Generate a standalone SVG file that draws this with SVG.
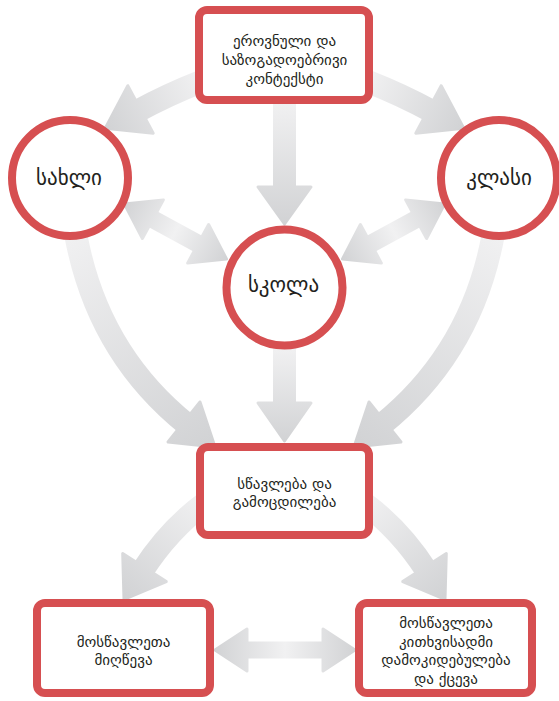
<svg xmlns="http://www.w3.org/2000/svg" width="559" height="701" viewBox="0 0 559 701">
<style>
.node{fill:#ffffff;stroke:#d64f51;stroke-width:8}
.t{font-family:"DejaVu Sans",sans-serif;fill:#231f20;text-anchor:middle}
.bt{font-size:15px}
.ct{font-size:21px}
.sh{fill:none;stroke-linecap:butt}
.hd{stroke-linejoin:round;stroke-width:3}
</style>
<defs>
<linearGradient id="g1" gradientUnits="userSpaceOnUse" x1="200" y1="82" x2="105" y2="128"><stop offset="0" stop-color="#f0f0f1"/><stop offset="1" stop-color="#d1d2d4"/></linearGradient>
<linearGradient id="g2" gradientUnits="userSpaceOnUse" x1="369" y1="82" x2="464" y2="128"><stop offset="0" stop-color="#f0f0f1"/><stop offset="1" stop-color="#d1d2d4"/></linearGradient>
<linearGradient id="g3" gradientUnits="userSpaceOnUse" x1="0" y1="104" x2="0" y2="226"><stop offset="0" stop-color="#f0f0f1"/><stop offset="1" stop-color="#d1d2d4"/></linearGradient>
<linearGradient id="g8" gradientUnits="userSpaceOnUse" x1="0" y1="350" x2="0" y2="443"><stop offset="0" stop-color="#f0f0f1"/><stop offset="1" stop-color="#d1d2d4"/></linearGradient>
<linearGradient id="g4" gradientUnits="userSpaceOnUse" x1="123" y1="203" x2="228" y2="260"><stop offset="0" stop-color="#d1d2d4"/><stop offset="0.5" stop-color="#f1f1f2"/><stop offset="1" stop-color="#d1d2d4"/></linearGradient>
<linearGradient id="g5" gradientUnits="userSpaceOnUse" x1="446" y1="203" x2="341" y2="260"><stop offset="0" stop-color="#d1d2d4"/><stop offset="0.5" stop-color="#f1f1f2"/><stop offset="1" stop-color="#d1d2d4"/></linearGradient>
<linearGradient id="g6" gradientUnits="userSpaceOnUse" x1="76" y1="236" x2="215" y2="447"><stop offset="0" stop-color="#f0f0f1"/><stop offset="1" stop-color="#d1d2d4"/></linearGradient>
<linearGradient id="g7" gradientUnits="userSpaceOnUse" x1="493" y1="236" x2="354" y2="447"><stop offset="0" stop-color="#f0f0f1"/><stop offset="1" stop-color="#d1d2d4"/></linearGradient>
<linearGradient id="g9" gradientUnits="userSpaceOnUse" x1="205" y1="503" x2="124" y2="599"><stop offset="0" stop-color="#f0f0f1"/><stop offset="1" stop-color="#d1d2d4"/></linearGradient>
<linearGradient id="g10" gradientUnits="userSpaceOnUse" x1="364" y1="503" x2="445" y2="599"><stop offset="0" stop-color="#f0f0f1"/><stop offset="1" stop-color="#d1d2d4"/></linearGradient>
<linearGradient id="g11" gradientUnits="userSpaceOnUse" x1="213" y1="0" x2="357" y2="0"><stop offset="0" stop-color="#d1d2d4"/><stop offset="0.5" stop-color="#f1f1f2"/><stop offset="1" stop-color="#d1d2d4"/></linearGradient>
</defs>

<g id="connectors">
  <g id="a-context-home">
    <path class="sh" d="M200,82 Q167,95 137,111.4" stroke="url(#g1)" stroke-width="23"/>
    <polygon class="hd" points="127.8,85.7 153.2,133.3 105.3,128.3" fill="url(#g1)" stroke="url(#g1)"/>
  </g>
  <g id="a-context-class">
    <path class="sh" d="M369,82 Q402,95 432,111.4" stroke="url(#g2)" stroke-width="23"/>
    <polygon class="hd" points="441.2,85.7 415.8,133.3 463.7,128.3" fill="url(#g2)" stroke="url(#g2)"/>
  </g>
  <g id="a-context-school">
    <path class="sh" d="M284.5,100 V188" stroke="url(#g3)" stroke-width="23"/>
    <polygon class="hd" points="258,187 311,187 284.5,224" fill="url(#g3)" stroke="url(#g3)"/>
  </g>
  <g id="a-home-school">
    <path class="sh" d="M150,217.6 L201,245.4" stroke="url(#g4)" stroke-width="18"/>
    <polygon class="hd" points="124.5,204 142.4,238.5 163.4,199.9" fill="url(#g4)" stroke="url(#g4)"/>
    <polygon class="hd" points="226.5,259 187.6,263.1 208.6,224.5" fill="url(#g4)" stroke="url(#g4)"/>
  </g>
  <g id="a-class-school">
    <path class="sh" d="M419,217.6 L368,245.4" stroke="url(#g5)" stroke-width="18"/>
    <polygon class="hd" points="444.5,204 426.6,238.5 405.6,199.9" fill="url(#g5)" stroke="url(#g5)"/>
    <polygon class="hd" points="342.5,259 381.4,263.1 360.4,224.5" fill="url(#g5)" stroke="url(#g5)"/>
  </g>
  <g id="a-home-teaching">
    <path class="sh" d="M76,236 Q98,353 187,424.5" stroke="url(#g6)" stroke-width="23"/>
    <polygon class="hd" points="200,402 168,442 215,447" fill="url(#g6)" stroke="url(#g6)"/>
  </g>
  <g id="a-class-teaching">
    <path class="sh" d="M493,236 Q471,353 382,424.5" stroke="url(#g7)" stroke-width="23"/>
    <polygon class="hd" points="369,402 401,442 354,447" fill="url(#g7)" stroke="url(#g7)"/>
  </g>
  <g id="a-school-teaching">
    <path class="sh" d="M284.5,348 V404" stroke="url(#g8)" stroke-width="23"/>
    <polygon class="hd" points="258,403 311,403 284.5,441" fill="url(#g8)" stroke="url(#g8)"/>
  </g>
  <g id="a-teaching-achievement">
    <path class="sh" d="M205,503 Q168.8,529.7 142.3,570.9" stroke="url(#g9)" stroke-width="23"/>
    <polygon class="hd" points="166.3,581.5 122.7,553.5 124,599.4" fill="url(#g9)" stroke="url(#g9)"/>
  </g>
  <g id="a-teaching-attitude">
    <path class="sh" d="M364,503 Q400.2,529.7 426.7,570.9" stroke="url(#g10)" stroke-width="23"/>
    <polygon class="hd" points="402.7,581.5 446.3,553.5 445,599.4" fill="url(#g10)" stroke="url(#g10)"/>
  </g>
  <g id="a-achievement-attitude">
    <path class="sh" d="M245,650 H325" stroke="url(#g11)" stroke-width="17"/>
    <polygon class="hd" points="215,650 247,629 247,671" fill="url(#g11)" stroke="url(#g11)"/>
    <polygon class="hd" points="355,650 323,629 323,671" fill="url(#g11)" stroke="url(#g11)"/>
  </g>
</g>

<g id="n-context">
  <rect class="node" x="199" y="10" width="170" height="90" rx="8"/>
  <text class="t bt" x="284.5" y="46">ეროვნული და</text>
  <text class="t bt" x="284.5" y="65">საზოგადოებრივი</text>
  <text class="t bt" x="284.5" y="84">კონტექსტი</text>
</g>
<g id="n-home">
  <circle class="node" cx="70" cy="178" r="58"/>
  <text class="t ct" x="69" y="185">სახლი</text>
</g>
<g id="n-class">
  <circle class="node" cx="499" cy="178" r="58"/>
  <text class="t ct" x="499" y="185">კლასი</text>
</g>
<g id="n-school">
  <circle class="node" cx="284.5" cy="287.5" r="58"/>
  <text class="t ct" x="283.5" y="292">სკოლა</text>
</g>
<g id="n-teaching">
  <rect class="node" x="200" y="447" width="169" height="88" rx="8"/>
  <text class="t bt" x="284.5" y="489">სწავლება და</text>
  <text class="t bt" x="284.5" y="507">გამოცდილება</text>
</g>
<g id="n-achievement">
  <rect class="node" x="37" y="603" width="173" height="90" rx="8"/>
  <text class="t bt" x="123.5" y="647">მოსწავლეთა</text>
  <text class="t bt" x="123.5" y="665">მიღწევა</text>
</g>
<g id="n-attitude">
  <rect class="node" x="359" y="603" width="173" height="90" rx="8"/>
  <text class="t bt" x="446" y="628">მოსწავლეთა</text>
  <text class="t bt" x="446" y="646.5">კითხვისადმი</text>
  <text class="t bt" x="446" y="665">დამოკიდებულება</text>
  <text class="t bt" x="446" y="683.5">და ქცევა</text>
</g>
</svg>
